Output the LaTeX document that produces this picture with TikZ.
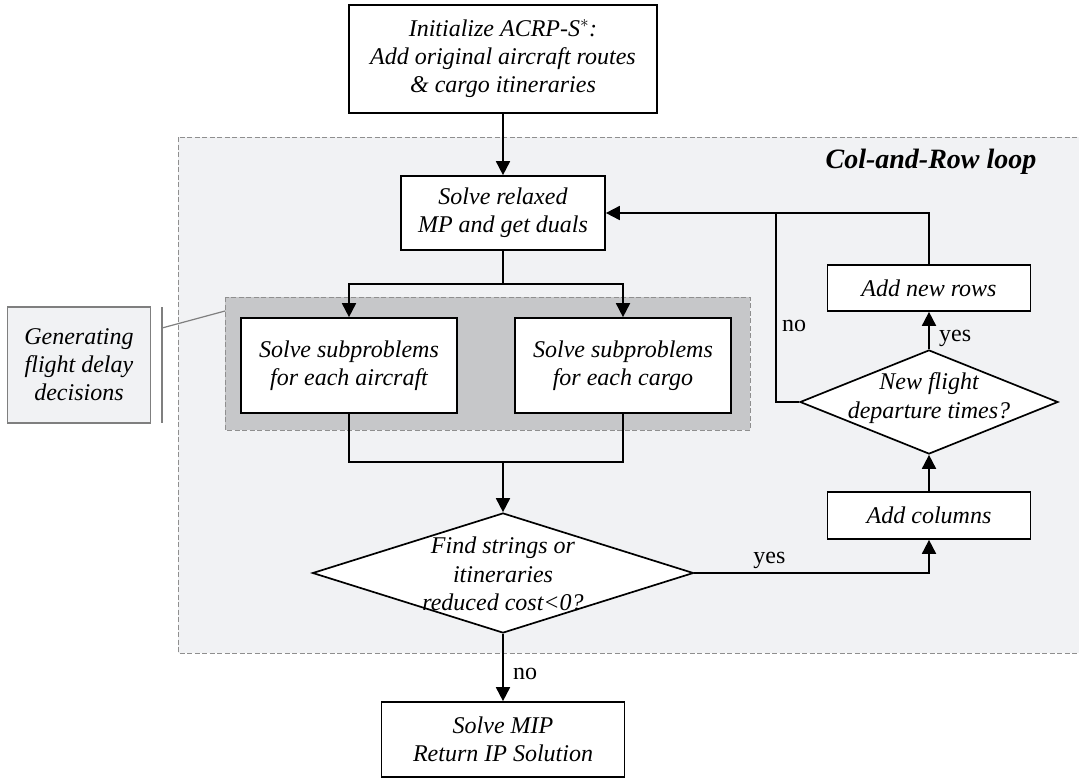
\documentclass[tikz,border=0pt]{standalone}
\usepackage{fontspec}
\setmainfont{Liberation Serif}
\usetikzlibrary{arrows.meta,shapes.geometric}

\definecolor{loopfill}{RGB}{241,242,244}
\definecolor{grpfill}{RGB}{198,199,201}
\definecolor{dashgray}{RGB}{143,143,143}
\definecolor{sidegray}{RGB}{127,127,127}

\tikzset{
  box/.style={draw, line width=1.7pt, fill=white, align=center, inner sep=0pt,
    font=\fontsize{24}{28}\selectfont\itshape},
  decision/.style={draw, diamond, line width=1.7pt, fill=white, inner sep=0pt},
  dtext/.style={align=center, font=\fontsize{24}{28.5}\selectfont\itshape},
  flow/.style={line width=1.8pt, -{Triangle[width=14pt,length=14pt]}},
  link/.style={line width=1.8pt},
  answer/.style={font=\fontsize{24}{28}\selectfont},
  region/.style={draw=dashgray, line width=1pt, dash pattern=on 5pt off 2.5pt}
}

\begin{document}
\begin{tikzpicture}[x=1pt,y=1pt,yscale=-1,xscale=1]
    \useasboundingbox (0,0) rectangle (1079,780);

    %Shape: Rectangle [loop region]
    \draw [region, fill=loopfill] (178,137) rectangle (1079,653);
    %Shape: Rectangle [subproblem group]
    \draw [region, fill=grpfill] (225,297) rectangle (750,430);

    % Text Node
    \node [font=\fontsize{28}{32}\selectfont\bfseries\itshape] (looplbl) at (931,162) {Col-and-Row loop};

    % Boxes
    \node [box, minimum width=308pt, minimum height=108pt] (init) at (503,59) {Initialize ACRP-S$^{*}$:\\Add original aircraft routes\\\& cargo itineraries};
    \node [box, minimum width=204pt, minimum height=74pt] (relax) at (503,213) {Solve relaxed\\MP and get duals};
    \node [box, minimum width=216pt, minimum height=95pt] (air) at (349,365.5) {Solve subproblems\\for each aircraft};
    \node [box, minimum width=216pt, minimum height=95pt] (cargo) at (623,365.5) {Solve subproblems\\for each cargo};
    \node [box, minimum width=243pt, minimum height=75pt] (mip) at (503,739.5) {Solve MIP\\Return IP Solution};
    \node [box, minimum width=203pt, minimum height=47pt] (addcol) at (929,515.5) {Add columns};
    \node [box, minimum width=203pt, minimum height=46pt] (addrow) at (929,288) {Add new rows};

    % Decisions
    \node [decision, minimum width=381pt, minimum height=120pt] (d1) at (503,573) {};
    \node [dtext] (d1txt) at (503,574) {Find strings or\\itineraries\\reduced cost<0?};
    \node [decision, minimum width=258pt, minimum height=104pt] (d2) at (929,402) {};
    \node [dtext] (d2txt) at (929,398) {New flight\\departure times?};

    % Side note
    \node [draw=sidegray, line width=1.2pt, fill=loopfill, align=center, inner sep=0pt,
      minimum width=143pt, minimum height=116pt, font=\fontsize{24}{28}\selectfont\itshape] (gen) at (79,365) {Generating\\flight delay\\decisions};
    \coordinate (bartop) at (162,307);
    \coordinate (barbot) at (162,423);
    \coordinate (barjoin) at (162,328);
    \coordinate (grpjoin) at (225,311);
    \draw [sidegray, line width=1.2pt] (bartop) -- (barbot);
    \draw [sidegray, line width=1.2pt] (barjoin) -- (grpjoin);

    % Connectors
    \coordinate (split) at (503,284);
    \coordinate (merge) at (503,462);
    \draw [flow] (init) -- (relax);
    \draw [link] (relax) -- (split);
    \draw [flow] (split) -| (air);
    \draw [flow] (split) -| (cargo);
    \draw [link] (air) |- (merge) -| (cargo);
    \draw [flow] (merge) -- (d1);
    \draw [flow] (d1) -- node [answer, right, pos=0.6, xshift=6pt] (no1) {no} (mip);
    \draw [flow] (d1.east) -| node [answer, above, pos=0.16] (yes1) {yes} (addcol);
    \draw [flow] (addcol) -- (d2);
    \draw [flow] (d2) -- node [answer, right, pos=0.3, xshift=6pt] (yes2) {yes} (addrow);
    \draw [flow] (addrow) |- (relax);
    \coordinate (nojoin) at (776,213);
    \draw [link] (d2.west) -| node [answer, right, pos=0.7, xshift=2pt] (no2) {no} (nojoin);
\end{tikzpicture}
\end{document}
